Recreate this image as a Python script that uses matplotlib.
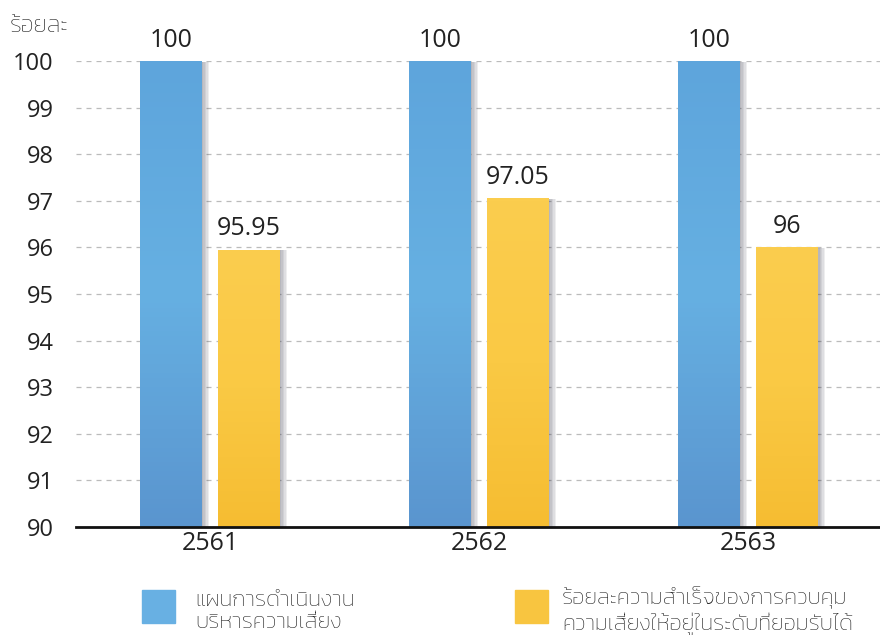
import matplotlib
matplotlib.use("Agg")
import matplotlib.pyplot as plt
import matplotlib.patheffects as pe
from matplotlib.colors import LinearSegmentedColormap
from matplotlib.patches import Rectangle
import numpy as np

years = ["2561", "2562", "2563"]
plan = [100, 100, 100]
success = [95.95, 97.05, 96]
plan_labels = ["100", "100", "100"]
success_labels = ["95.95", "97.05", "96"]
legend_names = ["แผนการดำเนินงาน\nบริหารความเสี่ยง",
                "ร้อยละความสำเร็จของการควบคุม\nความเสี่ยงให้อยู่ในระดับที่ยอมรับได้"]

num_font = ["Open Sans", "DejaVu Sans"]
thai_font = ["Kanit", "Noto Sans Thai", "DejaVu Sans"]

fig = plt.figure(figsize=(8.8, 6.35), dpi=100)
ax = fig.add_axes([0.0864, 0.170, 0.9136, 0.734])

x = np.arange(len(years))
w = 0.23
off = 0.145
blue_cm = LinearSegmentedColormap.from_list("b", ["#5a95cf", "#66b0e2", "#5ea5dc"])
yel_cm = LinearSegmentedColormap.from_list("y", ["#f6bd32", "#fac944", "#fbcd4e"])

# soft shadow on the right side of each bar
shadow = [pe.SimplePatchShadow(offset=(k, -0.5), shadow_rgbFace="#444455", alpha=0.09)
          for k in (5, 4, 3, 2, 1)] + [pe.Normal()]

def draw_bars(xs, vals, cmap, face):
    bars = ax.bar(xs, [v - 90 for v in vals], w, bottom=90, color=face, zorder=3,
                  path_effects=shadow)
    grad = np.linspace(0, 1, 100).reshape(-1, 1)
    for b in bars:
        x0, y0 = b.get_x(), b.get_y()
        im = ax.imshow(grad, cmap=cmap, aspect="auto", origin="lower",
                       extent=[x0, x0 + b.get_width(), y0, y0 + b.get_height()], zorder=4)
        im.set_clip_path(b)
    return bars

b1 = draw_bars(x - off, plan, blue_cm, "#62a9de")
b2 = draw_bars(x + off, success, yel_cm, "#f8c540")

for xi, v, s in zip(x - off, plan, plan_labels):
    ax.text(xi, v + 0.43, s, ha="center", va="center", fontsize=18, color="#222222",
            family=num_font, clip_on=False)
for xi, v, s in zip(x + off, success, success_labels):
    ax.text(xi, v + 0.45, s, ha="center", va="center", fontsize=18, color="#222222",
            family=num_font, clip_on=False)

ax.set_xlim(-0.498, 2.49)
ax.set_ylim(90, 100)
ax.set_yticks(range(90, 101))
ax.set_yticklabels([str(v) for v in range(90, 101)], family=num_font, fontsize=17, color="#222222")
ax.set_xticks(x)
ax.set_xticklabels(years, family=num_font, fontsize=18, color="#222222")
ax.tick_params(axis="y", length=0, pad=16)
ax.tick_params(axis="x", length=0, pad=3)
ax.grid(axis="y", linestyle=(0, (4, 4)), color="#bbbbbb", linewidth=0.9, zorder=0)
for s in ["top", "right", "left"]:
    ax.spines[s].set_visible(False)
ax.spines["bottom"].set_linewidth(2)
ax.spines["bottom"].set_color("#111111")
ax.spines["bottom"].set_zorder(6)

fig.text(0.011, 0.959, "ร้อยละ", family=thai_font, fontsize=17, fontweight="light",
         color="#222222", va="center")

# legend
for (lx, tx), col, name in zip([(142, 195), (515, 562)], ["#68b0e3", "#f8c540"], legend_names):
    fig.patches.append(Rectangle((lx / 880, 1 - 623 / 635), 33 / 880, 33 / 635,
                                 transform=fig.transFigure, color=col))
    fig.text(tx / 880, 1 - 611 / 635, name, family=thai_font, fontsize=16, fontweight="light",
             color="#222222", va="center", linespacing=1.2)

fig.savefig("out.png")
